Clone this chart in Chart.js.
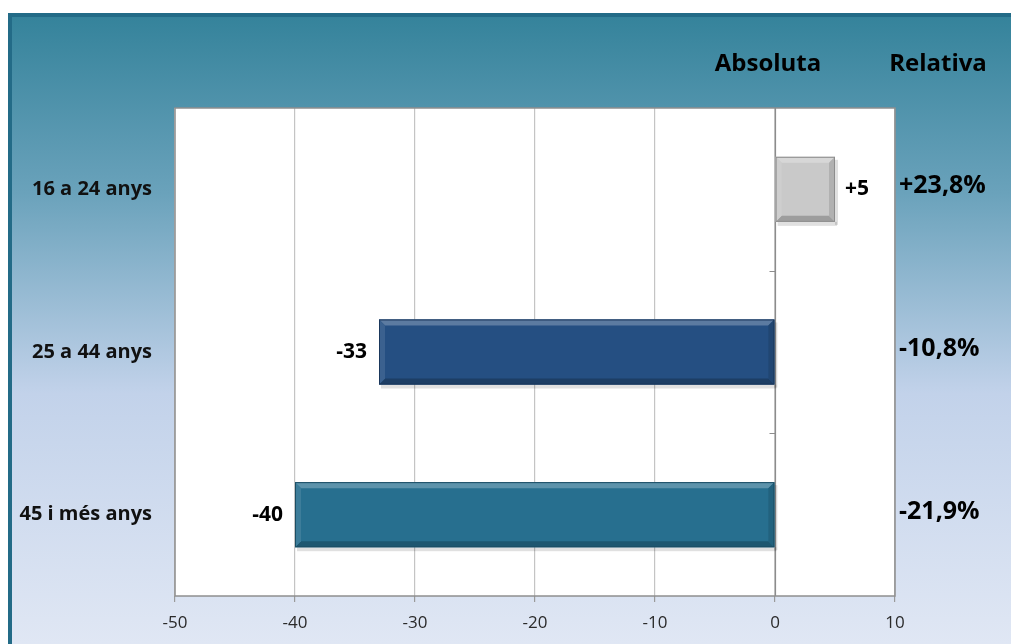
<!DOCTYPE html>
<html>
<head>
<meta charset="utf-8">
<script src="https://cdn.jsdelivr.net/npm/chart.js@4.4.0/dist/chart.umd.min.js"></script>
<style>
  html, body { margin: 0; padding: 0; background: #fff; }
  #wrap { width: 1011px; height: 644px; position: relative; }
</style>
</head>
<body>
<div id="wrap"><canvas id="grafic"></canvas></div>
<script>
// dades
const grups = ['16 a 24 anys', '25 a 44 anys', '45 i més anys'];
const absoluta = [5, -33, -40];
const relativa = ['+23,8%', '-10,8%', '-21,9%'];
const etiquetesAbs = ['+5', '-33', '-40'];
const colorsBarres = ['#c9c9c9', '#254f82', '#276f8f'];
const ticksX = [-50, -40, -30, -20, -10, 0, 10];

const FONT = '"Open Sans", sans-serif';

const ctx = document.getElementById('grafic');

function aclarir(hex, f) {
  let r = parseInt(hex.substr(1, 2), 16), g = parseInt(hex.substr(3, 2), 16), b = parseInt(hex.substr(5, 2), 16);
  if (f > 0) {
    r = r + (255 - r) * f; g = g + (255 - g) * f; b = b + (255 - b) * f;
  } else {
    r = r * (1 + f); g = g * (1 + f); b = b * (1 + f);
  }
  return 'rgb(' + Math.round(r) + ',' + Math.round(g) + ',' + Math.round(b) + ')';
}

// fons amb degradat i marc
const fons = {
  id: 'fons',
  beforeDraw(chart) {
    const c = chart.ctx;
    const w = chart.width, h = chart.height;
    c.save();
    c.fillStyle = '#ffffff';
    c.fillRect(0, 0, w, h);
    c.fillStyle = '#236b87';
    c.fillRect(8, 13, w - 8, h - 13);
    let grad = c.createLinearGradient(0, 17, 0, h);
    grad.addColorStop(0, '#35839b');
    grad.addColorStop(0.28, '#6aa2bb');
    grad.addColorStop(0.6, '#c2d2ea');
    grad.addColorStop(1, '#e0e7f4');
    c.fillStyle = grad;
    c.fillRect(12, 17, w - 12, h - 17);
    const a = chart.chartArea;
    c.fillStyle = '#ffffff';
    c.fillRect(a.left, a.top, a.right - a.left, a.bottom - a.top);
    c.restore();
  },
  afterDraw(chart) {
    const c = chart.ctx;
    const a = chart.chartArea;
    c.save();
    c.strokeStyle = '#8f8f8f';
    c.lineWidth = 1.5;
    c.strokeRect(a.left, a.top, a.right - a.left, a.bottom - a.top);
    c.restore();
  }
};

// eix zero amb marques de categoria
const eixZero = {
  id: 'eixZero',
  beforeDatasetsDraw(chart) {
    const c = chart.ctx;
    const xs = chart.scales.x;
    const x0 = Math.round(xs.getPixelForValue(0)) + 0.5;
    const a = chart.chartArea;
    c.save();
    c.strokeStyle = '#8c8c8c';
    c.lineWidth = 1.2;
    c.beginPath();
    c.moveTo(x0, a.top);
    c.lineTo(x0, a.bottom);
    const pas = (a.bottom - a.top) / grups.length;
    for (let i = 1; i < grups.length; i++) {
      const y = Math.round(a.top + pas * i) + 0.5;
      c.moveTo(x0 - 6, y);
      c.lineTo(x0, y);
    }
    c.stroke();
    c.restore();
  }
};

// barres amb relleu
const relleu = {
  id: 'relleu',
  afterDatasetsDraw(chart) {
    const c = chart.ctx;
    const meta = chart.getDatasetMeta(0);
    meta.data.forEach((bar, i) => {
      const p = bar.getProps(['x', 'y', 'base', 'height'], true);
      const l = Math.min(p.x, p.base), r = Math.max(p.x, p.base);
      const t = p.y - p.height / 2, b = p.y + p.height / 2;
      const col = colorsBarres[i];
      const e = 6;
      c.save();
      // ombra
      c.fillStyle = 'rgba(0,0,0,0.12)';
      c.fillRect(l + 2, b, r - l, 4);
      c.fillRect(r, t + 3, 3, b - t);
      c.fillStyle = col;
      c.fillRect(l, t, r - l, b - t);
      // dalt
      c.fillStyle = aclarir(col, 0.25);
      c.beginPath();
      c.moveTo(l, t); c.lineTo(r, t); c.lineTo(r - e, t + e); c.lineTo(l + e, t + e); c.closePath(); c.fill();
      // baix
      c.fillStyle = aclarir(col, -0.22);
      c.beginPath();
      c.moveTo(l, b); c.lineTo(r, b); c.lineTo(r - e, b - e); c.lineTo(l + e, b - e); c.closePath(); c.fill();
      // esquerra
      c.fillStyle = aclarir(col, 0.1);
      c.beginPath();
      c.moveTo(l, t); c.lineTo(l + e, t + e); c.lineTo(l + e, b - e); c.lineTo(l, b); c.closePath(); c.fill();
      // dreta
      c.fillStyle = aclarir(col, -0.12);
      c.beginPath();
      c.moveTo(r, t); c.lineTo(r - e, t + e); c.lineTo(r - e, b - e); c.lineTo(r, b); c.closePath(); c.fill();
      c.strokeStyle = aclarir(col, -0.3);
      c.lineWidth = 1;
      c.strokeRect(l + 0.5, t + 0.5, r - l - 1, b - t - 1);
      c.restore();

      // etiqueta absoluta
      c.save();
      c.font = 'bold 21px ' + FONT;
      c.fillStyle = '#000';
      c.textBaseline = 'middle';
      if (absoluta[i] >= 0) {
        c.textAlign = 'left';
        c.fillText(etiquetesAbs[i], r + 10, p.y);
      } else {
        c.textAlign = 'right';
        c.fillText(etiquetesAbs[i], l - 12, p.y);
      }
      // etiqueta relativa
      c.font = 'bold 25px ' + FONT;
      c.textAlign = 'left';
      c.fillText(relativa[i], chart.chartArea.right + 4, p.y - 3);
      c.restore();
    });
    // capçaleres
    c.save();
    c.font = 'bold 24px ' + FONT;
    c.fillStyle = '#000';
    c.textAlign = 'center';
    c.textBaseline = 'middle';
    c.fillText('Absoluta', chart.scales.x.getPixelForValue(0) - 7, 64);
    c.fillText('Relativa', chart.chartArea.right + 43, 64);
    c.restore();
  }
};

new Chart(ctx, {
  type: 'bar',
  data: {
    labels: grups,
    datasets: [{
      data: absoluta,
      backgroundColor: 'rgba(0,0,0,0)',
      borderWidth: 0,
      categoryPercentage: 1,
      barPercentage: 0.4
    }]
  },
  options: {
    indexAxis: 'y',
    responsive: true,
    maintainAspectRatio: false,
    animation: false,
    layout: {
      padding: { top: 108, right: 116, bottom: 0, left: 0 }
    },
    scales: {
      x: {
        type: 'linear',
        min: -50,
        max: 10,
        afterBuildTicks: (scale) => { scale.ticks = ticksX.map(v => ({ value: v })); },
        afterFit: (scale) => { scale.height = 48; },
        border: { display: false },
        grid: {
          color: '#c4c4c4',
          lineWidth: 1.2,
          tickLength: 6,
          tickColor: '#9a9a9a',
          drawTicks: true
        },
        ticks: {
          color: '#2a2a2a',
          padding: 11,
          font: { family: FONT, size: 17 }
        }
      },
      y: {
        afterFit: (scale) => { scale.width = 175; },
        border: { display: false },
        grid: { display: false },
        ticks: {
          color: '#111',
          padding: 15,
          font: { family: FONT, size: 20, weight: 'bold' }
        }
      }
    },
    plugins: {
      legend: { display: false },
      tooltip: { enabled: false }
    }
  },
  plugins: [fons, eixZero, relleu]
});
</script>
</body>
</html>
